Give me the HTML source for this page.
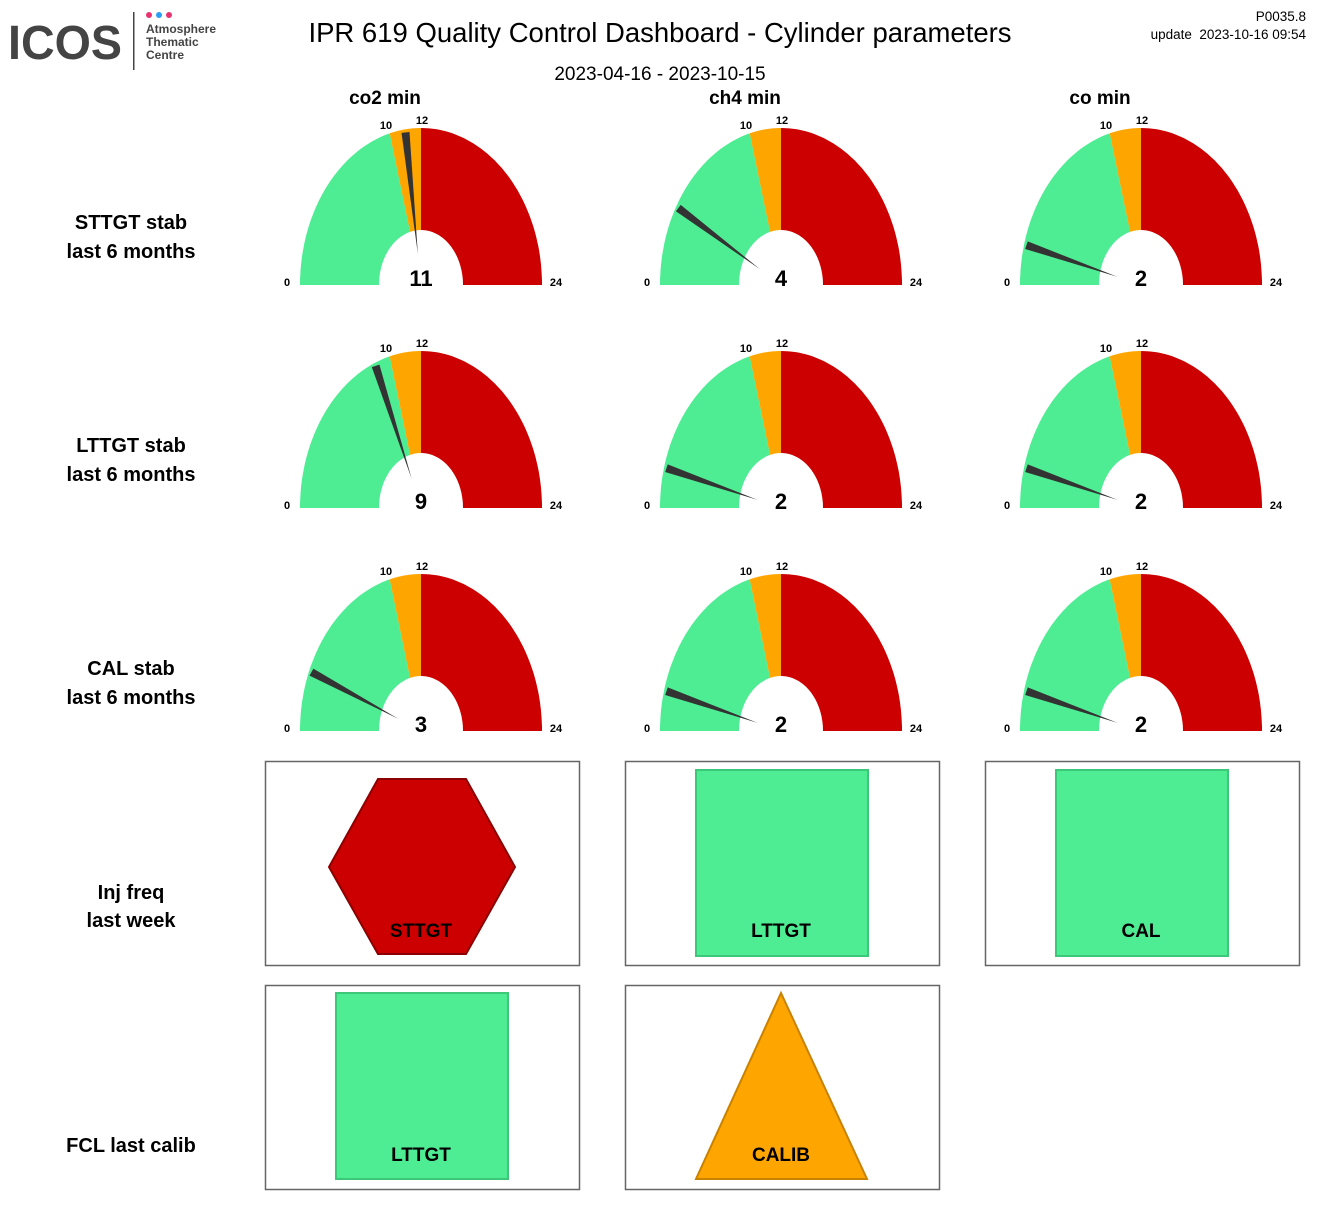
<!DOCTYPE html>
<html><head><meta charset="utf-8">
<style>
html,body{margin:0;padding:0;background:#fff;}
body{width:1320px;height:1200px;overflow:hidden;}
svg text{font-family:"Liberation Sans",Arial,sans-serif;}
</style></head>
<body>
<svg id="s" width="1320" height="1200" viewBox="0 0 1320 1200" xmlns="http://www.w3.org/2000/svg">
<!-- logo -->
<text x="8" y="59" font-size="48" font-weight="bold" fill="#444" textLength="114" lengthAdjust="spacingAndGlyphs">ICOS</text>
<rect x="133" y="12" width="1.5" height="58" fill="#444"/>
<circle cx="149" cy="15" r="3" fill="#e8336f"/>
<circle cx="159" cy="15" r="3" fill="#2a9df4"/>
<circle cx="169" cy="15" r="3" fill="#e8336f"/>
<text x="146" y="33" font-size="12" font-weight="bold" fill="#444">Atmosphere</text>
<text x="146" y="46" font-size="12" font-weight="bold" fill="#444">Thematic</text>
<text x="146" y="59" font-size="12" font-weight="bold" fill="#444">Centre</text>

<text x="660" y="42" font-size="27.5" text-anchor="middle">IPR 619 Quality Control Dashboard - Cylinder parameters</text>
<text x="660" y="80" font-size="19" text-anchor="middle">2023-04-16 - 2023-10-15</text>
<text x="1306" y="21" font-size="13.5" text-anchor="end">P0035.8</text>
<text x="1306" y="39" font-size="13.5" text-anchor="end" xml:space="preserve">update  2023-10-16 09:54</text>

<text x="385" y="104" font-size="19" font-weight="bold" text-anchor="middle">co2 min</text>
<text x="745" y="104" font-size="19" font-weight="bold" text-anchor="middle">ch4 min</text>
<text x="1100" y="104" font-size="19" font-weight="bold" text-anchor="middle">co min</text>

<g font-size="20" font-weight="bold" text-anchor="middle">
<text x="131" y="229">STTGT stab</text><text x="131" y="258">last 6 months</text>
<text x="131" y="452">LTTGT stab</text><text x="131" y="481">last 6 months</text>
<text x="131" y="675">CAL stab</text><text x="131" y="704">last 6 months</text>
<text x="131" y="899">Inj freq</text><text x="131" y="927">last week</text>
<text x="131" y="1152">FCL last calib</text>
</g>

<g id="gauges"></g>

<g font-size="22" font-weight="bold" text-anchor="middle">
<text x="421" y="286">11</text><text x="781" y="286">4</text><text x="1141" y="286">2</text>
<text x="421" y="509">9</text><text x="781" y="509">2</text><text x="1141" y="509">2</text>
<text x="421" y="732">3</text><text x="781" y="732">2</text><text x="1141" y="732">2</text>
</g>
<g font-size="11" font-weight="bold" text-anchor="middle">
<text x="287" y="286">0</text><text x="556" y="286">24</text><text x="386" y="129">10</text><text x="422" y="124">12</text>
<text x="647" y="286">0</text><text x="916" y="286">24</text><text x="746" y="129">10</text><text x="782" y="124">12</text>
<text x="1007" y="286">0</text><text x="1276" y="286">24</text><text x="1106" y="129">10</text><text x="1142" y="124">12</text>
<text x="287" y="509">0</text><text x="556" y="509">24</text><text x="386" y="352">10</text><text x="422" y="347">12</text>
<text x="647" y="509">0</text><text x="916" y="509">24</text><text x="746" y="352">10</text><text x="782" y="347">12</text>
<text x="1007" y="509">0</text><text x="1276" y="509">24</text><text x="1106" y="352">10</text><text x="1142" y="347">12</text>
<text x="287" y="732">0</text><text x="556" y="732">24</text><text x="386" y="575">10</text><text x="422" y="570">12</text>
<text x="647" y="732">0</text><text x="916" y="732">24</text><text x="746" y="575">10</text><text x="782" y="570">12</text>
<text x="1007" y="732">0</text><text x="1276" y="732">24</text><text x="1106" y="575">10</text><text x="1142" y="570">12</text>
</g>

<!-- boxes -->
<g fill="none" stroke="#666" stroke-width="1.5">
<rect x="265.5" y="761.5" width="314" height="204"/>
<rect x="625.5" y="761.5" width="314" height="204"/>
<rect x="985.5" y="761.5" width="314" height="204"/>
<rect x="265.5" y="985.5" width="314" height="204"/>
<rect x="625.5" y="985.5" width="314" height="204"/>
</g>
<polygon points="378,779 466,779 515,867 466,954 378,954 329,867" fill="#cc0000" stroke="#8b0000" stroke-width="2"/>
<rect x="696" y="770" width="172" height="186" fill="#4eed94" stroke="#3cc878" stroke-width="2"/>
<rect x="1056" y="770" width="172" height="186" fill="#4eed94" stroke="#3cc878" stroke-width="2"/>
<rect x="336" y="993" width="172" height="186" fill="#4eed94" stroke="#3cc878" stroke-width="2"/>
<polygon points="781,993 867,1179 696,1179" fill="#ffa500" stroke="#c88200" stroke-width="2"/>
<g font-size="19" font-weight="bold" text-anchor="middle">
<text x="421" y="937">STTGT</text>
<text x="781" y="937">LTTGT</text>
<text x="1141" y="937">CAL</text>
<text x="421" y="1161">LTTGT</text>
<text x="781" y="1161">CALIB</text>
</g>
</svg>
<script>
(function(){
var NS="http://www.w3.org/2000/svg",g=document.getElementById("gauges");
var RX=121,RY=157,IRX=42,IRY=55;
function pt(cx,cy,rx,ry,v){var t=Math.PI*(1-v/24);return [cx+rx*Math.cos(t),cy-ry*Math.sin(t)];}
function band(cx,cy,a,b,col){var p=[],n=60,i;for(i=0;i<=n;i++){p.push(pt(cx,cy,RX,RY,a+(b-a)*i/n));}
for(i=n;i>=0;i--){p.push(pt(cx,cy,IRX,IRY,a+(b-a)*i/n));}
var e=document.createElementNS(NS,"polygon");e.setAttribute("points",p.map(function(q){return q[0].toFixed(1)+","+q[1].toFixed(1)}).join(" "));e.setAttribute("fill",col);g.appendChild(e);}
function needle(cx,cy,v){var o=pt(cx,cy,RX*0.98,RY*0.98,v),i=pt(cx,cy,RX*0.2,RY*0.2,v);
var dx=o[0]-i[0],dy=o[1]-i[1],L=Math.sqrt(dx*dx+dy*dy),nx=-dy/L*4,ny=dx/L*4;
var e=document.createElementNS(NS,"polygon");e.setAttribute("points",[i[0]+","+i[1],(o[0]+nx)+","+(o[1]+ny),(o[0]-nx)+","+(o[1]-ny)].join(" "));e.setAttribute("fill","#333");g.appendChild(e);}
var cols=[421,781,1141],rows=[285,508,731],vals=[[11,4,2],[9,2,2],[3,2,2]];
for(var r=0;r<3;r++)for(var c=0;c<3;c++){var cx=cols[c],cy=rows[r];
band(cx,cy,0,10,"#4eed94");band(cx,cy,10,12,"#ffa500");band(cx,cy,12,24,"#cc0000");needle(cx,cy,vals[r][c]);}
})();
</script>
</body></html>
